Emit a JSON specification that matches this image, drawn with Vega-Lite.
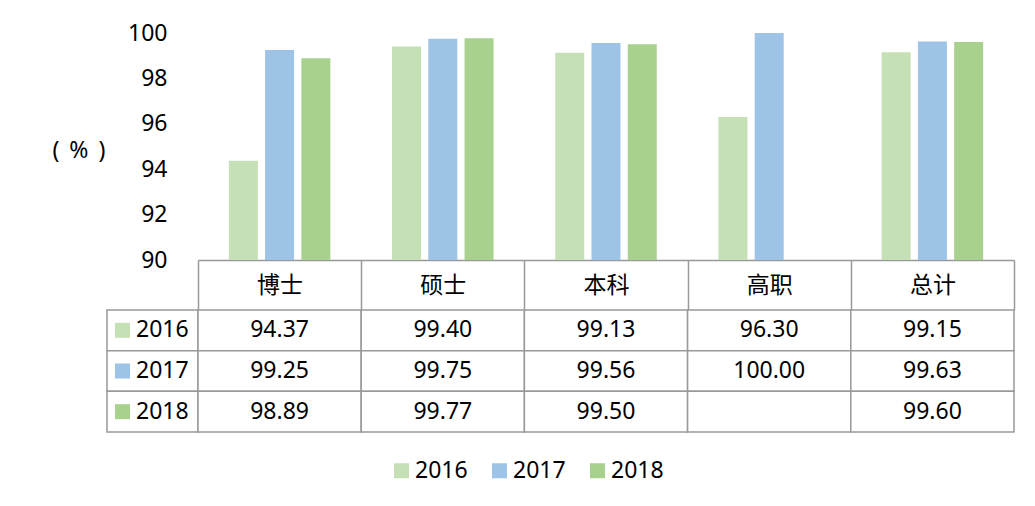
{
  "$schema": "https://vega.github.io/schema/vega-lite/v6.json",
  "background": "white",
  "padding": {"left": 52, "top": 22, "right": 10, "bottom": 20},
  "config": {
    "view": {"stroke": null},
    "font": "Noto Sans, Noto Sans CJK SC"
  },
  "datasets": {
    "rates": [
      {"cat": "博士", "year": "2016", "value": 94.37},
      {"cat": "博士", "year": "2017", "value": 99.25},
      {"cat": "博士", "year": "2018", "value": 98.89},
      {"cat": "硕士", "year": "2016", "value": 99.40},
      {"cat": "硕士", "year": "2017", "value": 99.75},
      {"cat": "硕士", "year": "2018", "value": 99.77},
      {"cat": "本科", "year": "2016", "value": 99.13},
      {"cat": "本科", "year": "2017", "value": 99.56},
      {"cat": "本科", "year": "2018", "value": 99.50},
      {"cat": "高职", "year": "2016", "value": 96.30},
      {"cat": "高职", "year": "2017", "value": 100.00},
      {"cat": "高职", "year": "2018", "value": null},
      {"cat": "总计", "year": "2016", "value": 99.15},
      {"cat": "总计", "year": "2017", "value": 99.63},
      {"cat": "总计", "year": "2018", "value": 99.60}
    ],
    "years": [
      {"year": "2016"},
      {"year": "2017"},
      {"year": "2018"}
    ]
  },
  "columns": 2,
  "bounds": "flush",
  "spacing": {"row": 50, "column": 0},
  "resolve": {"scale": {"color": "shared"}, "legend": {"color": "shared"}},
  "concat": [
    {
      "width": 91,
      "height": 227,
      "data": {"values": [{}]},
      "mark": {"type": "text"},
      "encoding": {"text": {"value": ""}}
    },
    {
      "width": 816,
      "height": 227,
      "data": {"name": "rates"},
      "transform": [{"filter": "isValid(datum.value)"}],
      "mark": {"type": "bar"},
      "encoding": {
        "x": {
          "field": "cat",
          "type": "nominal",
          "sort": ["博士", "硕士", "本科", "高职", "总计"],
          "scale": {"paddingInner": 0, "paddingOuter": 0},
          "axis": {
            "title": null,
            "labelAngle": 0,
            "labelFontSize": 23,
            "labelColor": "#000000",
            "labelBaseline": "middle",
            "labelPadding": -25,
            "ticks": true,
            "tickBand": "extent",
            "tickSize": 50,
            "tickColor": "#999999",
            "tickWidth": 1.5,
            "domain": true,
            "domainColor": "#999999",
            "domainWidth": 1.5
          }
        },
        "xOffset": {
          "field": "year",
          "type": "nominal",
          "scale": {"paddingInner": 0.2, "paddingOuter": 0.85}
        },
        "y": {
          "field": "value",
          "type": "quantitative",
          "scale": {"domain": [90, 100], "nice": false, "zero": false},
          "axis": {
            "title": "(\u2004\u200a%\u2004\u200a)",
            "titleAngle": 0,
            "titleX": -146,
            "titleY": 117,
            "titleAlign": "left",
            "titleBaseline": "middle",
            "titleFontSize": 23,
            "titleFontWeight": "normal",
            "titleColor": "#000000",
            "values": [90, 92, 94, 96, 98, 100],
            "labelFontSize": 23,
            "labelColor": "#000000",
            "labelPadding": 31,
            "ticks": false,
            "domain": false,
            "grid": false
          }
        },
        "y2": {"datum": 90},
        "color": {
          "field": "year",
          "type": "nominal",
          "scale": {"domain": ["2016", "2017", "2018"], "range": ["#C5E0B4", "#9DC3E6", "#A9D18E"]},
          "legend": {
            "title": null,
            "orient": "none",
            "legendX": 283,
            "legendY": 426,
            "direction": "horizontal",
            "symbolType": "square",
            "symbolSize": 225,
            "symbolStrokeWidth": 0,
            "symbolOpacity": 1,
            "labelFontSize": 23,
            "labelColor": "#000000",
            "labelOffset": 2,
            "labelLimit": 0,
            "columnPadding": 20
          }
        }
      }
    },
    {
      "width": 91,
      "height": 122,
      "data": {"name": "years"},
      "encoding": {
        "y": {
          "field": "year",
          "type": "nominal",
          "scale": {"domain": ["2016", "2017", "2018"], "paddingInner": 0, "paddingOuter": 0},
          "axis": null
        }
      },
      "layer": [
        {"mark": {"type": "rect", "fill": "white", "stroke": "#999999", "strokeWidth": 1.5}},
        {
          "mark": {"type": "point", "shape": "square", "filled": true, "size": 225, "opacity": 1},
          "encoding": {
            "x": {
              "datum": "swatch",
              "type": "nominal",
              "scale": {"type": "point", "domain": ["swatch", "label", "s1", "s2", "s3", "s4"], "padding": 0.87, "align": 0.66},
              "axis": null
            },
            "color": {"field": "year", "type": "nominal"}
          }
        },
        {
          "mark": {"type": "text", "align": "left", "baseline": "middle", "fontSize": 23, "color": "#000000"},
          "encoding": {
            "x": {"datum": "label", "type": "nominal"},
            "text": {"field": "year"}
          }
        }
      ]
    },
    {
      "width": 816,
      "height": 122,
      "data": {"name": "rates"},
      "encoding": {
        "x": {
          "field": "cat",
          "type": "nominal",
          "sort": ["博士", "硕士", "本科", "高职", "总计"],
          "scale": {"paddingInner": 0, "paddingOuter": 0},
          "axis": null
        },
        "y": {
          "field": "year",
          "type": "nominal",
          "scale": {"domain": ["2016", "2017", "2018"], "paddingInner": 0, "paddingOuter": 0},
          "axis": null
        }
      },
      "layer": [
        {"mark": {"type": "rect", "fill": "white", "stroke": "#999999", "strokeWidth": 1.5}},
        {
          "transform": [{"filter": "isValid(datum.value)"}],
          "mark": {"type": "text", "baseline": "middle", "fontSize": 23, "color": "#000000"},
          "encoding": {
            "text": {"field": "value", "type": "quantitative", "format": ".2f"}
          }
        }
      ]
    }
  ]
}
